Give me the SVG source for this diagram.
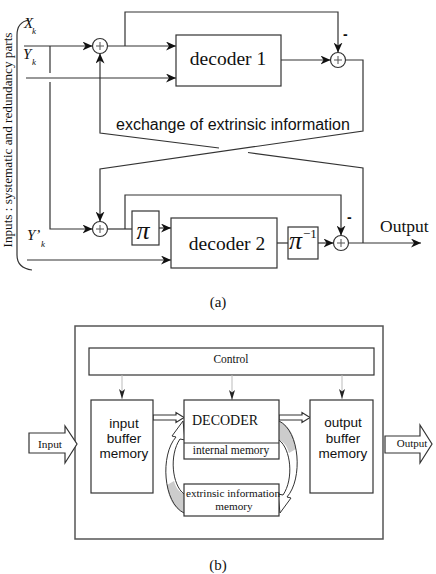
<svg xmlns="http://www.w3.org/2000/svg" xmlns:xlink="http://www.w3.org/1999/xlink" width="436" height="574" viewBox="0 0 436 574">
<style>
.ln{fill:none;stroke:#333;stroke-width:1.2}
.bx{fill:#fff;stroke:#333;stroke-width:1.2}
.ser{font-family:"Liberation Serif","Times New Roman",serif;fill:#111}
.san{font-family:"Liberation Sans",Arial,sans-serif;fill:#111}
.it{font-style:italic}
.ctl{fill:none;stroke:#bbb;stroke-width:1}
</style>
<defs>
<marker id="ah" markerUnits="userSpaceOnUse" markerWidth="10" markerHeight="9" refX="10" refY="4.5" orient="auto">
<path d="M0,0 L10,4.5 L0,9 L3,4.5 Z" fill="#111"/>
</marker>
<marker id="ahs" markerUnits="userSpaceOnUse" markerWidth="10" markerHeight="6" refX="10" refY="3" orient="auto">
<path d="M0,0 L10,3 L0,6 L2.5,3 Z" fill="#222"/>
</marker>
<g id="adder">
<circle cx="0" cy="0" r="7.5" fill="#fff" stroke="#333" stroke-width="1.2"/>
<path d="M-4,0 H4 M0,-4 V4" stroke="#555" stroke-width="1"/>
</g>
</defs>

<!-- ===== Part (a) ===== -->
<g id="inputs">
<path class="ln" d="M29,20 Q17,22 17,35 L17,255 Q17,268 32,270"/>
<text class="ser" font-size="13.2" text-anchor="middle" transform="translate(12,140) rotate(-90)">Inputs : systematic and redundancy parts</text>
<text class="ser it" font-size="15" x="24" y="28">X</text>
<text class="ser it" font-size="9" x="32" y="34">k</text>
<text class="ser it" font-size="15" x="23" y="59">Y</text>
<text class="ser it" font-size="9" x="32" y="65">k</text>
<text class="ser it" font-size="15" x="27" y="240">Y’</text>
<text class="ser it" font-size="9" x="41" y="247">k</text>
</g>

<g id="connectors-a">
<path class="ln" d="M24,46 H92.5" marker-end="url(#ah)"/>
<path class="ln" d="M50,46 V73 M50,82 V229 H92.5" marker-end="url(#ah)"/>
<path class="ln" d="M26,78 H176" marker-end="url(#ah)"/>
<path class="ln" d="M107.5,46 H176" marker-end="url(#ah)"/>
<path class="ln" d="M125,46 V12 H338 V52.5" marker-end="url(#ah)"/>
<path class="ln" d="M281,60 H330.5" marker-end="url(#ah)"/>
<path class="ln" d="M345.5,60 H363 V131 L100,169 V221.5" marker-end="url(#ah)"/>
<path class="ln" d="M363,243 V168 L248,152.5"/>
<path class="ln" d="M219,148 L100,133 V53.5" marker-end="url(#ah)"/>
<path class="ln" d="M107.5,229 H132"/>
<path class="ln" d="M125,229 V195 H341 V235.5" marker-end="url(#ah)"/>
<path class="ln" d="M159,228 H171" marker-end="url(#ah)"/>
<path class="ln" d="M27,260 H171" marker-end="url(#ah)"/>
<path class="ln" d="M277,243 H288"/>
<path class="ln" d="M318,243 H333.5" marker-end="url(#ah)"/>
<path class="ln" d="M348.5,243 H421" marker-end="url(#ah)"/>
<text class="san" font-size="16" x="116" y="130">exchange of extrinsic information</text>
<text class="san" font-size="14" font-weight="bold" x="343" y="38.5">-</text>
<text class="san" font-size="14" font-weight="bold" x="347" y="222">-</text>
<text class="ser" font-size="17.5" x="380" y="232">Output</text>
</g>

<g id="adder1"><use xlink:href="#adder" x="100" y="46"/></g>
<g id="adder2"><use xlink:href="#adder" x="338" y="60"/></g>
<g id="adder3"><use xlink:href="#adder" x="100" y="229"/></g>
<g id="adder4"><use xlink:href="#adder" x="341" y="243"/></g>

<g id="decoder1">
<rect class="bx" x="176" y="35" width="105" height="51"/>
<text class="ser" font-size="19.5" x="228" y="65" text-anchor="middle">decoder 1</text>
</g>
<g id="interleaver">
<rect class="bx" x="132" y="211" width="27" height="34"/>
<text class="ser it" font-size="26" x="143" y="239" text-anchor="middle">π</text>
</g>
<g id="decoder2">
<rect class="bx" x="171" y="218" width="106" height="50"/>
<text class="ser" font-size="19.5" x="227" y="250" text-anchor="middle">decoder 2</text>
</g>
<g id="deinterleaver">
<rect class="bx" x="288" y="227" width="30" height="32"/>
<text class="ser it" font-size="26" x="289" y="249">π</text>
<text class="ser" font-size="13" x="303" y="238">−1</text>
</g>
<text class="ser" font-size="15" x="218" y="307" text-anchor="middle">(a)</text>

<!-- ===== Part (b) ===== -->
<g id="frame">
<rect x="75" y="326" width="308" height="213" fill="none" stroke="#555" stroke-width="1.5"/>
</g>
<g id="control">
<rect class="bx" x="89" y="348" width="285" height="27"/>
<text class="ser" font-size="11.5" x="231" y="363" text-anchor="middle">Control</text>
</g>
<g id="connectors-b">
<path class="ctl" d="M122,375 V399" marker-end="url(#ahs)"/>
<path class="ctl" d="M232,375 V400" marker-end="url(#ahs)"/>
<path class="ctl" d="M342,375 V399" marker-end="url(#ahs)"/>
<path class="bx" d="M153,415 H176 V412.5 L184,417.5 L176,422.5 V420 H153 Z"/>
<path class="bx" d="M279,415 H302 V412.5 L310,417.5 L302,422.5 V420 H279 Z"/>
<g id="loop-left">
<path d="M184,513 C172,508 168,495 167,485 L174,481 C176,488 179,492 184,494 Z" fill="#ccc"/>
<path d="M184,513 C163,503 160,455 176,437 L172,436 L183,421 L185,440 L180,439 C169,455 172,485 184,494" fill="none" stroke="#333" stroke-width="1"/>
</g>
<g id="loop-right" transform="rotate(180 231.5 467)">
<path d="M184,513 C172,508 168,495 167,485 L174,481 C176,488 179,492 184,494 Z" fill="#ccc"/>
<path d="M184,513 C163,503 160,455 176,437 L172,436 L183,421 L185,440 L180,439 C169,455 172,485 184,494" fill="none" stroke="#333" stroke-width="1"/>
</g>
</g>
<g id="input-buffer">
<rect class="bx" x="91" y="400" width="62" height="93"/>
<text class="san" font-size="13.5" text-anchor="middle" x="124" y="428">input</text>
<text class="san" font-size="13.5" text-anchor="middle" x="124" y="443">buffer</text>
<text class="san" font-size="13.5" text-anchor="middle" x="124" y="458">memory</text>
</g>
<g id="decoder">
<rect class="bx" x="184" y="400" width="95" height="59"/>
<line x1="184" y1="443" x2="279" y2="443" stroke="#333" stroke-width="1.2"/>
<text class="ser" font-size="14" x="192" y="425">DECODER</text>
<text class="ser" font-size="11.5" x="231" y="454" text-anchor="middle">internal memory</text>
</g>
<g id="extrinsic-memory">
<rect class="bx" x="184" y="484" width="95" height="32"/>
<text class="ser" font-size="11.2" x="233" y="497" text-anchor="middle">extrinsic information</text>
<text class="ser" font-size="11.2" x="234" y="510" text-anchor="middle">memory</text>
</g>
<g id="output-buffer">
<rect class="bx" x="310" y="400" width="63" height="93"/>
<text class="san" font-size="13.5" text-anchor="middle" x="343" y="427">output</text>
<text class="san" font-size="13.5" text-anchor="middle" x="343" y="443">buffer</text>
<text class="san" font-size="13.5" text-anchor="middle" x="343" y="458">memory</text>
</g>
<g id="input-arrow">
<path class="bx" d="M29,433 H65 V426 L77,444 L65,463 V453 H29 Z"/>
<text class="ser" font-size="11.4" x="50" y="448" text-anchor="middle">Input</text>
</g>
<g id="output-arrow">
<path class="bx" d="M385,436 H420 V425 L432,444 L420,463 V453 H385 Z"/>
<text class="ser" font-size="11" x="412" y="447" text-anchor="middle">Output</text>
</g>
<text class="ser" font-size="15" x="218" y="570" text-anchor="middle">(b)</text>
</svg>
